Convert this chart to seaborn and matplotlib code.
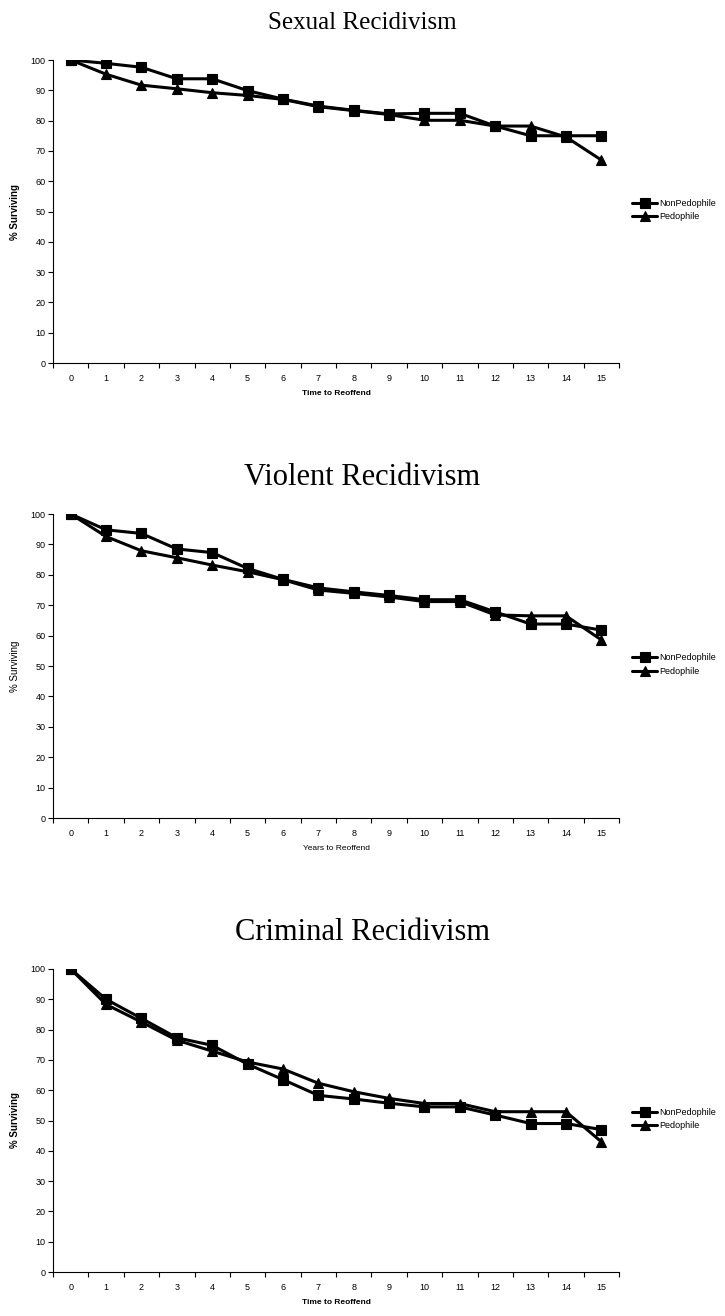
import numpy as np
import pandas as pd
import matplotlib
matplotlib.use('Agg')
import matplotlib.pyplot as plt
import seaborn as sns

# data
years = list(range(16))

sexual_nonped = [100, 98.9, 97.6, 93.8, 93.8, 89.9, 87.1, 84.8, 83.4, 82.2, 82.4, 82.4, 78.2, 75.0, 75.0, 75.0]
sexual_ped = [100, 95.3, 91.7, 90.5, 89.2, 88.3, 87.0, 84.6, 83.3, 82.0, 80.1, 80.1, 78.2, 78.2, 74.6, 67.0]

violent_nonped = [100, 94.8, 93.6, 88.5, 87.3, 82.1, 78.5, 75.7, 74.4, 73.2, 71.8, 71.8, 67.8, 63.8, 63.8, 61.8]
violent_ped = [100, 92.6, 87.9, 85.6, 83.2, 81.0, 78.4, 75.0, 73.9, 72.7, 71.2, 71.2, 66.8, 66.5, 66.5, 58.6]

criminal_nonped = [100, 90.0, 83.7, 77.3, 74.8, 68.6, 63.5, 58.3, 57.1, 55.7, 54.5, 54.5, 51.8, 49.0, 49.0, 47.0]
criminal_ped = [100, 88.3, 82.5, 76.5, 72.9, 69.3, 67.0, 62.3, 59.5, 57.3, 55.6, 55.6, 52.9, 52.9, 52.9, 43.0]

sns.set_theme(style='white')
plt.rcParams['font.family'] = ['Liberation Sans', 'DejaVu Sans']
plt.rcParams['text.color'] = 'black'
plt.rcParams['axes.labelcolor'] = 'black'
plt.rcParams['xtick.color'] = 'black'
plt.rcParams['ytick.color'] = 'black'


def survival_plot(ax, nonped, ped, xlabel, bold):
    """
    Draws both survival curves on ax, Excel style (ticks between categories).
    """
    for vals, mk, lab in [(nonped, 's', 'NonPedophile'), (ped, '^', 'Pedophile')]:
        sns.lineplot(x=years, y=vals, marker=mk, color='black', linewidth=2.2,
                     markersize=6.5, markeredgecolor='black', markeredgewidth=0.8,
                     label=lab, ax=ax)

    ax.set_xlim(-0.5, 15.5)
    ax.set_ylim(0, 100)
    ax.set_yticks(range(0, 101, 10))
    ax.set_xticks(np.arange(-0.5, 16, 1))
    ax.set_xticklabels([])
    ax.set_xticks(years, minor=True)
    ax.set_xticklabels([str(y) for y in years], minor=True)
    ax.tick_params(axis='both', which='major', direction='out', length=3.5, width=0.8,
                   color='black', labelsize=6.5, pad=2, left=True, bottom=True)
    ax.tick_params(axis='x', which='minor', length=0, pad=8, labelsize=6.5, bottom=True)

    for s in ['top', 'right']:
        ax.spines[s].set_visible(False)
    for s in ['left', 'bottom']:
        ax.spines[s].set_color('black')
        ax.spines[s].set_linewidth(0.8)

    weight = 'bold' if bold else 'normal'
    ax.set_xlabel(xlabel, fontsize=6, fontweight=weight)
    ax.xaxis.set_label_coords(0.5, -0.088)
    ax.xaxis.label.set_va('top')
    ax.set_ylabel('% Surviving', fontsize=7, fontweight=weight)
    ax.yaxis.set_label_coords(-0.058, 0.5)

    ax.legend(loc='center left', bbox_to_anchor=(1.023, 0.505), frameon=False,
              fontsize=6.5, handlelength=2.8, handletextpad=0.2, labelspacing=0.5,
              borderpad=0, borderaxespad=0)


fig = plt.figure(figsize=(7.25, 13.16), dpi=100)
W, H = 725.0, 1316.0

panels = [
    ('Sexual Recidivism', sexual_nonped, sexual_ped, 'Time to Reoffend', True, 60, 363, 29, 18),
    ('Violent Recidivism', violent_nonped, violent_ped, 'Years to Reoffend', False, 514, 818, 485, 22),
    ('Criminal Recidivism', criminal_nonped, criminal_ped, 'Time to Reoffend', True, 969, 1272, 940, 22),
]

for title, nonped, ped, xlabel, bold, top, bottom, title_y, title_size in panels:
    ax = fig.add_axes([53 / W, 1 - bottom / H, 566 / W, (bottom - top) / H])
    survival_plot(ax, nonped, ped, xlabel, bold)
    fig.text(0.5, 1 - title_y / H, title, ha='center', va='baseline', fontsize=title_size,
             color='black', family=['Liberation Serif', 'DejaVu Serif'])

fig.savefig('out.png', dpi=100)
